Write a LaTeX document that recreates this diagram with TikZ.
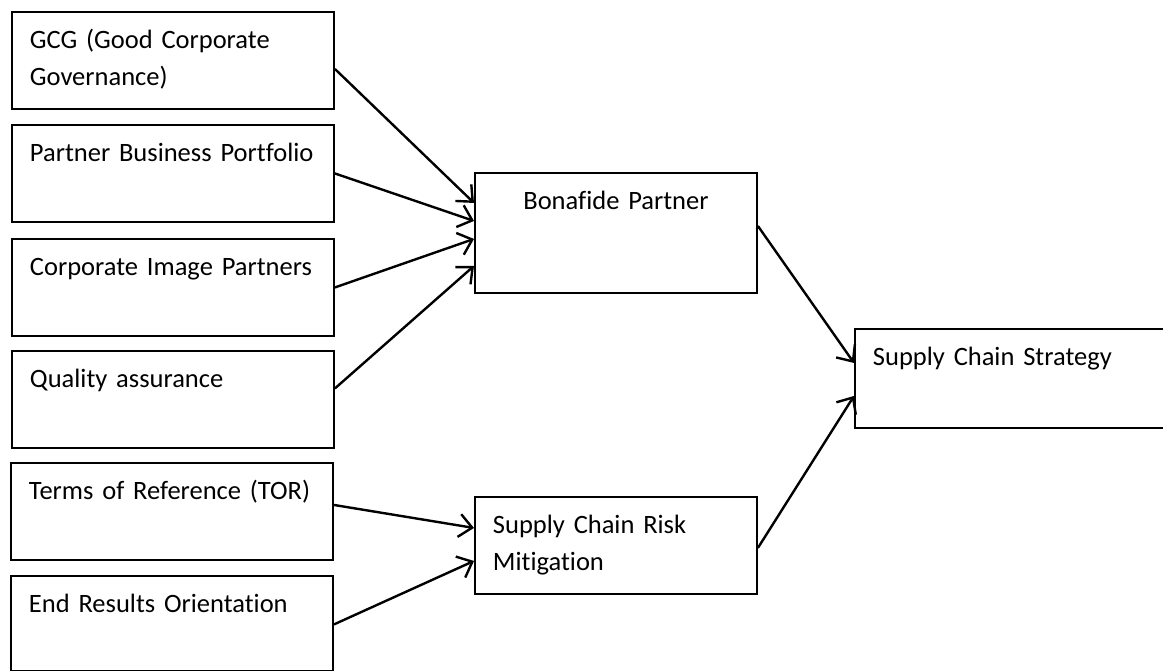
\documentclass[tikz,border=0pt]{standalone}
\usepackage{fontspec}
\setmainfont{Carlito}[RawFeature=-liga, WordSpace=0.85]
\usetikzlibrary{arrows.meta}

\tikzset{
    box/.style={draw, line width=1.9pt, anchor=north west, inner xsep=18pt, inner ysep=0pt,
        text height=37pt, font=\fontsize{26.5}{37}\selectfont},
    factor/.style={box, align=left, text width=286pt, text depth=60pt},
    link/.style={line width=2.4pt, -{Straight Barb[length=13pt,width=23pt,line width=2.4pt]}}
}

\begin{document}
\begin{tikzpicture}[x=1pt, y=-1pt]
    
    \useasboundingbox (0,0) rectangle (1163,671);
    
    \coordinate (c1) at (11, 11);
    \coordinate (c2) at (11, 124);
    \coordinate (c3) at (11, 238);
    \coordinate (c4) at (11, 350);
    \coordinate (c5) at (10, 462);
    \coordinate (c6) at (10, 575);
    \coordinate (c7) at (474, 172);
    \coordinate (c8) at (474, 496);
    \coordinate (c9) at (854, 328);
    
    \node (gcg) at (c1) [factor] {GCG (Good Corporate\\Governance)};
    \node (pbp) at (c2) [factor] {Partner Business Portfolio};
    \node (cip) at (c3) [factor] {Corporate Image Partners};
    \node (qa) at (c4) [factor] {Quality assurance};
    \node (tor) at (c5) [factor] {Terms of Reference (TOR)};
    \node (ero) at (c6) [factor, text depth=58pt] {End Results Orientation};
    
    \node (bona) at (c7) [box, align=center, text width=246pt, text depth=83pt] {Bonafide Partner};
    \node (risk) at (c8) [box, align=left, text width=246pt, text depth=60pt] {Supply Chain Risk\\Mitigation};
    \node (scs) at (c9) [box, align=left, text width=280pt, text depth=62pt] {Supply Chain Strategy};
    
    \draw[link] ([yshift=-8.5pt]gcg.east) -- ([yshift=30pt]bona.west);
    \draw[link] (pbp.east) -- ([yshift=12pt]bona.west);
    \draw[link] (cip.east) -- ([yshift=-6pt]bona.west);
    \draw[link] ([yshift=11pt]qa.east) -- ([yshift=-33pt]bona.west);
    \draw[link] ([yshift=6.5pt]tor.east) -- ([yshift=17.5pt]risk.west);
    \draw[link] ([yshift=-1pt]ero.east) -- ([yshift=-15.5pt]risk.west);
    \draw[link] ([yshift=7pt]bona.east) -- ([yshift=15.5pt]scs.west);
    \draw[link] ([yshift=-2.5pt]risk.east) -- ([yshift=-17.5pt]scs.west);
    
\end{tikzpicture}
\end{document}
